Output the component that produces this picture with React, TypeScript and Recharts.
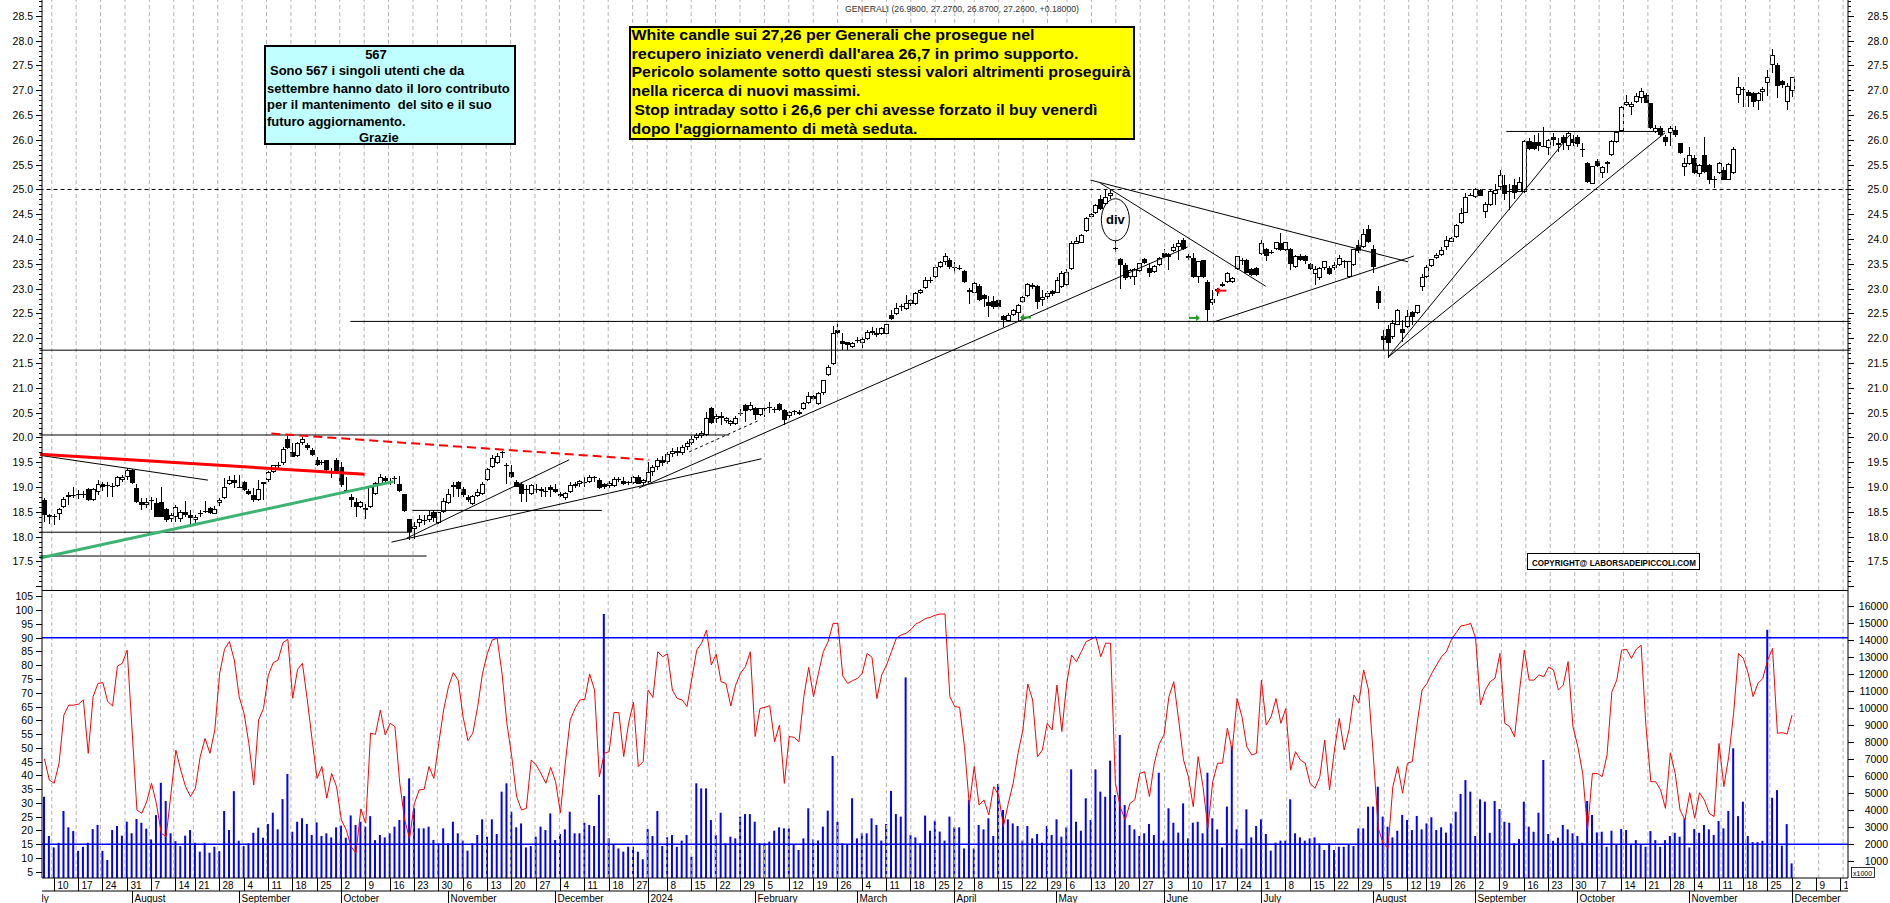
import React from "react";
import {
  ComposedChart,
  Bar,
  Line,
  XAxis,
  YAxis,
  ReferenceLine,
  ReferenceDot,
} from "recharts";

const FONT = "'Liberation Sans', Arial, Helvetica, sans-serif";

const TOP_H = 590;
const BOT_H = 313;
const PLOT_BOTTOM = 288; // inside the lower chart
const SLOTS = 371; // trading days incl. empty space after the last bar

// Borsa Italiana closures inside the period
const HOLIDAYS = [
  "2023-08-15", "2023-12-25", "2023-12-26", "2024-01-01",
  "2024-03-29", "2024-04-01", "2024-05-01", "2024-08-15",
];

const MONTH_NAMES = [
  "January", "February", "March", "April", "May", "June", "July",
  "August", "September", "October", "November", "December",
];

// daily OHLC, 6 Jul 2023 .. 2 Dec 2024
const OPEN = [
  18.73,18.43,18.42,18.45,18.59,18.79,18.84,18.86,18.86,18.96,
  18.73,18.90,19.06,19.05,19.03,19.02,19.14,19.20,19.35,18.99,
  18.69,18.64,18.74,18.67,18.69,18.55,18.35,18.40,18.35,18.50,
  18.44,18.33,18.47,18.52,18.58,18.46,18.67,18.77,19.06,19.14,
  19.01,19.10,18.92,18.85,18.74,19.10,19.14,19.31,19.45,19.48,
  19.96,19.71,19.62,19.88,19.85,19.75,19.55,19.50,19.55,19.33,
  19.55,19.41,18.95,18.79,18.69,18.60,18.58,18.59,18.87,19.06,
  19.18,19.11,19.18,19.07,18.86,18.36,18.15,18.28,18.34,18.34,
  18.50,18.28,18.50,18.68,19.04,19.10,18.97,18.81,18.66,18.83,
  18.86,19.14,19.40,19.48,19.70,19.45,19.31,19.11,19.06,18.95,
  18.87,18.97,18.93,18.93,19.01,18.97,18.87,18.77,18.91,19.02,
  19.06,19.10,19.11,19.20,19.14,19.06,19.02,19.02,19.16,19.12,
  19.10,19.08,19.21,19.08,19.11,19.30,19.40,19.55,19.50,19.66,
  19.72,19.68,19.80,19.88,19.98,20.02,20.05,20.59,20.38,20.43,
  20.33,20.27,20.27,20.49,20.66,20.55,20.59,20.45,20.59,20.62,
  20.57,20.67,20.55,20.43,20.54,20.48,20.57,20.70,20.83,20.67,
  20.89,21.26,21.48,22.17,21.95,21.93,21.83,21.95,21.90,21.98,
  22.10,22.11,22.09,22.09,22.47,22.49,22.65,22.60,22.69,22.69,
  22.92,23.01,23.17,23.23,23.44,23.54,23.58,23.44,23.42,23.36,
  22.94,22.92,23.05,22.87,22.73,22.76,22.77,22.45,22.35,22.47,
  22.50,22.74,22.85,23.08,23.05,22.77,22.84,22.95,22.92,23.03,
  23.07,23.39,23.91,23.93,24.17,24.45,24.52,24.80,24.71,24.86,
  23.81,23.60,23.48,23.24,23.24,23.36,23.59,23.41,23.34,23.48,
  23.71,23.70,23.75,23.84,23.98,23.66,23.61,23.24,23.58,23.14,
  22.72,23.00,23.06,23.14,23.14,23.39,23.57,23.58,23.39,23.41,
  23.70,23.79,23.71,23.79,23.93,23.77,23.79,23.43,23.65,23.65,
  23.50,23.30,23.21,23.41,23.41,23.41,23.48,23.56,23.24,23.48,
  23.88,23.85,24.20,23.79,22.95,22.05,22.18,22.03,22.27,22.18,
  22.22,22.52,22.50,23.03,23.24,23.45,23.61,23.68,23.85,23.95,
  24.04,24.32,24.53,24.88,24.84,24.99,24.55,24.69,24.91,25.04,
  25.10,24.97,25.09,24.95,24.95,25.98,25.96,25.96,25.88,25.83,
  26.05,25.90,26.06,25.88,26.01,26.05,25.82,25.53,25.12,25.58,
  25.34,25.51,25.70,25.96,26.17,26.70,26.66,26.77,26.84,26.90,
  26.74,26.15,26.23,26.05,26.13,26.19,25.93,25.46,25.51,25.63,
  25.31,25.69,25.49,25.22,25.33,25.39,25.20,25.33,26.90,27.00,
  26.97,26.94,26.79,26.97,27.15,27.51,27.51,27.19,26.77,26.98,
];

const HIGH = [
  18.77,18.45,18.45,18.57,18.81,18.91,19.00,18.94,18.92,18.98,
  18.98,19.14,19.11,19.11,19.08,19.23,19.25,19.38,19.36,19.07,
  18.77,18.77,18.79,18.77,19.01,18.58,18.47,18.64,18.54,18.71,
  18.54,18.44,18.54,18.71,18.60,18.61,18.77,19.18,19.22,19.24,
  19.24,19.12,18.97,18.99,19.14,19.10,19.33,19.45,19.51,19.80,
  20.03,19.88,19.90,20.00,19.88,19.78,19.60,19.55,19.55,19.38,
  19.58,19.50,19.20,18.87,18.77,18.72,18.65,19.04,19.11,19.27,
  19.23,19.18,19.23,19.23,18.86,18.36,18.30,18.44,18.44,18.54,
  18.54,18.50,18.77,18.97,19.11,19.13,19.01,18.84,18.84,18.97,
  19.11,19.38,19.65,19.68,19.72,19.48,19.45,19.15,19.11,19.04,
  19.06,19.06,19.01,19.01,19.04,19.06,18.91,18.91,19.11,19.11,
  19.14,19.21,19.25,19.23,19.18,19.09,19.12,19.21,19.21,19.21,
  19.13,19.23,19.24,19.17,19.51,19.45,19.58,19.62,19.70,19.78,
  19.80,19.85,19.92,20.02,20.10,20.14,20.52,20.62,20.48,20.52,
  20.42,20.35,20.43,20.57,20.68,20.72,20.62,20.60,20.62,20.72,
  20.62,20.70,20.57,20.53,20.56,20.56,20.72,20.92,20.86,20.92,
  21.16,21.46,22.25,22.33,22.11,21.93,21.92,22.03,22.03,22.17,
  22.23,22.20,22.23,22.30,22.57,22.72,22.69,22.87,22.80,22.94,
  23.00,23.24,23.23,23.48,23.56,23.71,23.62,23.54,23.48,23.38,
  23.02,23.14,23.09,22.89,22.85,22.85,22.80,22.47,22.50,22.60,
  22.70,22.85,23.11,23.12,23.07,22.97,22.95,22.98,23.24,23.35,
  23.40,23.97,24.05,24.10,24.45,24.52,24.70,24.88,25.00,25.00,
  23.97,23.61,23.51,23.40,23.41,23.52,23.62,23.51,23.48,23.63,
  23.79,23.72,23.91,23.98,24.02,23.70,23.71,23.56,23.58,23.18,
  22.97,23.02,23.13,23.33,23.24,23.66,23.62,23.60,23.42,23.43,
  23.98,23.81,23.78,23.95,24.12,23.95,23.81,23.68,23.70,23.68,
  23.52,23.45,23.44,23.56,23.45,23.54,23.68,23.58,23.56,23.80,
  23.98,24.20,24.28,23.88,23.05,22.17,22.26,22.37,22.60,22.37,
  22.58,22.54,22.67,23.30,23.48,23.60,23.71,23.85,24.06,24.05,
  24.31,24.62,24.92,24.92,25.02,25.01,24.74,24.99,25.12,25.39,
  25.30,25.12,25.22,25.26,26.00,26.03,26.10,26.13,26.25,26.01,
  26.14,26.03,26.09,26.15,26.10,26.10,25.94,25.56,25.47,25.61,
  25.47,25.58,25.99,26.17,26.68,26.90,26.77,26.94,27.04,26.95,
  26.75,26.30,26.27,26.10,26.28,26.28,25.94,25.63,25.86,25.70,
  25.52,26.06,25.51,25.27,25.56,25.46,25.54,25.86,27.27,27.06,
  27.01,26.97,26.97,27.06,27.40,27.83,27.55,27.21,27.14,27.27,
];

const LOW = [
  18.30,18.26,18.24,18.34,18.57,18.64,18.77,18.76,18.78,18.72,
  18.72,18.84,18.93,18.79,18.79,19.00,19.10,19.15,19.07,18.67,
  18.54,18.57,18.54,18.39,18.39,18.30,18.30,18.30,18.30,18.40,
  18.20,18.27,18.40,18.47,18.45,18.45,18.62,18.76,19.04,18.99,
  18.99,18.93,18.84,18.70,18.71,18.74,19.10,19.28,19.38,19.45,
  19.76,19.60,19.60,19.85,19.74,19.62,19.43,19.45,19.31,19.18,
  19.30,19.00,18.90,18.60,18.40,18.58,18.35,18.57,18.84,19.04,
  19.06,19.05,19.06,18.91,18.50,17.93,17.95,18.20,18.24,18.30,
  18.30,18.25,18.48,18.66,18.81,18.81,18.81,18.70,18.64,18.81,
  18.84,19.12,19.38,19.46,19.58,19.06,19.18,19.00,18.70,18.70,
  18.85,18.88,18.81,18.81,18.81,18.88,18.81,18.73,18.89,18.99,
  19.01,19.01,19.08,19.11,18.97,18.97,18.98,19.01,19.11,19.04,
  19.04,19.06,19.06,19.05,19.08,19.22,19.35,19.42,19.46,19.60,
  19.62,19.64,19.74,19.84,19.94,19.98,20.02,20.28,20.30,20.25,
  20.30,20.23,20.26,20.43,20.32,20.53,20.35,20.44,20.42,20.49,
  20.50,20.54,20.25,20.40,20.45,20.46,20.55,20.68,20.75,20.66,
  20.86,21.23,21.46,22.03,21.76,21.76,21.81,21.90,21.80,21.96,
  22.06,22.03,22.07,22.07,22.36,22.47,22.54,22.58,22.66,22.67,
  22.90,22.99,23.12,23.21,23.42,23.48,23.40,23.31,23.38,23.12,
  22.69,22.91,22.76,22.64,22.42,22.60,22.60,22.23,22.33,22.45,
  22.35,22.72,22.84,23.00,22.60,22.65,22.80,22.85,22.91,23.01,
  23.05,23.38,23.90,23.92,24.15,24.43,24.50,24.58,24.69,24.80,
  23.74,23.00,23.18,23.20,23.07,23.34,23.49,23.24,23.32,23.46,
  23.61,23.38,23.73,23.58,23.78,23.58,23.21,23.11,23.21,22.34,
  22.67,22.85,23.03,23.12,23.12,23.38,23.48,23.32,23.25,23.26,
  23.68,23.56,23.70,23.78,23.75,23.76,23.38,23.41,23.55,23.50,
  23.37,23.07,23.17,23.38,23.28,23.37,23.46,23.41,23.22,23.46,
  23.71,23.83,23.93,23.32,22.60,21.76,21.60,21.98,22.26,21.93,
  22.20,22.27,22.48,22.95,23.22,23.43,23.60,23.66,23.78,23.94,
  24.02,24.30,24.52,24.86,24.82,24.87,24.42,24.67,24.69,24.99,
  24.79,24.59,24.81,24.94,24.93,25.80,25.80,25.78,25.86,25.70,
  25.88,25.75,25.80,25.79,25.87,25.85,25.65,25.14,25.11,25.46,
  25.24,25.34,25.68,25.94,26.15,26.68,26.50,26.75,26.74,26.74,
  26.21,26.13,26.08,25.88,25.88,26.05,25.71,25.27,25.49,25.32,
  25.26,25.33,25.12,25.02,25.31,25.19,25.19,25.31,26.74,26.66,
  26.66,26.66,26.60,26.78,26.88,27.34,26.84,27.04,26.60,26.87,
];

const CLOSE = [
  18.44,18.40,18.39,18.55,18.76,18.84,18.85,18.86,18.87,18.73,
  18.96,19.06,19.01,19.03,19.02,19.21,19.21,19.35,19.09,18.69,
  18.64,18.69,18.71,18.40,18.40,18.34,18.44,18.59,18.50,18.44,
  18.37,18.39,18.47,18.49,18.48,18.56,18.74,19.00,19.14,19.08,
  19.00,18.95,18.87,18.74,18.97,19.06,19.31,19.44,19.45,19.76,
  19.79,19.61,19.88,19.96,19.78,19.65,19.45,19.51,19.34,19.33,
  19.31,19.04,18.95,18.73,18.59,18.70,18.54,19.01,19.08,19.21,
  19.12,19.11,19.18,18.93,18.52,18.10,18.22,18.35,18.31,18.44,
  18.37,18.50,18.71,18.87,19.01,18.97,18.84,18.73,18.82,18.91,
  19.06,19.36,19.58,19.63,19.71,19.42,19.20,19.01,18.87,18.97,
  19.04,18.97,18.96,18.93,18.94,18.91,18.83,18.89,19.04,19.07,
  19.12,19.11,19.21,19.20,18.99,19.01,19.09,19.16,19.17,19.06,
  19.09,19.20,19.06,19.14,19.31,19.40,19.55,19.48,19.66,19.72,
  19.68,19.80,19.88,19.97,20.06,20.10,20.39,20.30,20.43,20.39,
  20.39,20.34,20.40,20.49,20.54,20.65,20.45,20.59,20.58,20.62,
  20.56,20.56,20.35,20.52,20.53,20.52,20.69,20.84,20.77,20.90,
  21.16,21.43,22.11,22.11,21.88,21.87,21.90,21.97,21.98,22.13,
  22.15,22.07,22.20,22.29,22.38,22.62,22.64,22.72,22.77,22.92,
  22.97,23.17,23.16,23.44,23.54,23.65,23.44,23.44,23.41,23.14,
  22.98,23.11,22.77,22.80,22.65,22.64,22.64,22.37,22.47,22.57,
  22.67,22.84,23.09,23.03,22.74,22.84,22.92,22.89,23.18,23.32,
  23.34,23.93,23.97,24.08,24.42,24.50,24.69,24.60,24.85,24.92,
  23.80,23.48,23.21,23.38,23.39,23.51,23.51,23.32,23.46,23.61,
  23.63,23.63,23.85,23.93,23.80,23.61,23.24,23.56,23.23,22.57,
  22.79,22.96,23.10,23.31,23.22,23.65,23.57,23.32,23.28,23.28,
  23.93,23.65,23.74,23.95,23.77,23.95,23.50,23.65,23.58,23.55,
  23.39,23.40,23.41,23.55,23.30,23.48,23.61,23.55,23.55,23.79,
  23.76,24.10,23.95,23.44,22.72,21.97,21.90,22.30,22.57,22.11,
  22.45,22.43,22.67,23.24,23.43,23.59,23.68,23.78,23.99,24.03,
  24.28,24.53,24.84,24.88,25.00,24.87,24.71,24.96,24.99,25.29,
  24.90,24.95,24.92,25.16,25.98,25.81,25.81,25.88,25.88,25.99,
  26.00,25.94,25.94,26.13,25.93,25.92,25.81,25.16,25.47,25.47,
  25.45,25.56,25.98,26.15,26.66,26.76,26.72,26.88,26.99,26.75,
  26.23,26.23,26.10,25.96,26.23,26.10,25.73,25.54,25.70,25.34,
  25.50,25.36,25.20,25.22,25.53,25.20,25.51,25.81,27.07,27.02,
  26.88,26.77,26.94,27.02,27.27,27.72,27.09,27.11,27.08,27.26,
];

// oscillator (left scale of the lower panel)
const OSCILLATOR = [
  46.0,38.3,37.1,44.4,61.9,65.5,65.5,65.9,67.4,48.0,
  68.6,73.4,73.7,66.8,65.2,79.7,80.7,85.5,56.5,27.4,
  26.2,30.4,37.1,29.8,19.0,17.7,33.5,49.2,41.9,35.9,
  32.3,35.3,46.8,53.4,48.0,56.5,77.1,85.8,88.6,81.9,
  68.6,62.5,51.6,36.5,60.1,64.3,76.5,80.9,81.9,88.2,
  89.4,68.0,78.5,80.7,67.4,52.8,38.9,43.2,31.7,40.7,
  35.9,23.8,20.2,14.1,11.7,27.8,22.6,55.3,54.9,63.7,
  54.7,58.9,57.7,37.1,23.8,17.1,29.8,34.7,34.9,43.2,
  38.9,51.6,63.7,72.2,77.3,74.6,61.3,52.6,55.3,65.0,
  77.1,84.3,89.2,89.8,77.1,58.9,46.8,32.3,27.4,28.0,
  45.6,43.8,40.7,37.1,42.9,37.7,26.4,44.4,60.1,64.3,
  67.4,67.6,76.8,71.0,39.5,48.0,48.6,62.8,62.8,46.8,
  58.9,66.6,43.2,45.0,71.0,68.3,84.9,83.1,84.1,71.0,
  67.9,67.4,65.0,75.2,85.5,88.0,92.8,80.1,84.0,74.0,
  73.4,65.2,72.8,77.1,79.5,84.9,54.1,64.3,64.7,65.3,
  52.2,58.3,37.1,54.1,53.8,52.2,68.6,79.2,68.6,77.1,
  84.9,88.6,95.2,95.2,76.1,73.4,74.4,75.2,77.1,84.3,
  82.9,67.9,76.5,80.1,84.9,89.8,91.0,91.6,93.0,95.0,
  95.8,97.0,97.4,98.2,98.6,98.6,68.6,65.0,64.7,50.4,
  29.2,43.2,29.2,31.1,25.6,35.9,32.9,21.4,29.8,37.1,
  48.0,56.5,73.2,67.4,46.8,49.2,58.9,56.5,72.8,55.9,
  73.4,83.7,81.3,84.9,88.6,89.4,90.4,83.1,88.0,88.0,
  37.1,28.6,23.8,29.8,31.1,40.7,41.3,32.3,44.4,51.4,
  54.7,68.6,74.0,60.1,45.6,39.5,28.6,46.8,35.9,20.8,
  37.7,44.4,44.4,57.1,49.2,67.9,61.3,50.4,47.4,48.0,
  74.6,58.3,61.3,67.9,58.9,64.3,41.9,48.6,45.6,44.4,
  37.1,35.3,39.5,52.8,34.7,49.2,60.7,49.2,56.5,69.2,
  66.2,78.3,71.0,46.8,20.8,15.3,13.5,35.9,43.2,33.5,
  44.4,45.0,58.9,71.0,73.4,77.1,80.1,83.1,84.9,89.2,
  91.8,94.3,94.6,95.2,89.8,65.6,71.0,74.0,75.3,84.3,
  58.9,57.7,54.0,70.4,85.5,74.6,74.6,76.5,75.8,79.3,
  78.3,71.0,72.8,81.3,57.7,50.4,40.7,20.2,40.7,40.7,
  39.5,47.4,70.4,74.6,85.5,85.8,82.5,85.8,87.3,57.7,
  37.7,37.7,34.7,28.0,48.2,40.7,27.4,23.8,33.7,24.4,
  33.7,31.0,26.2,25.0,51.6,35.9,46.8,62.5,84.3,82.5,
  77.1,68.6,73.4,75.2,81.9,86.1,55.3,55.5,55.0,61.9,
];

// volume in thousands (right scale of the lower panel)
const VOLUME_K = [
  4.78,2.47,1.80,2.07,3.94,2.98,2.76,1.60,1.84,2.07,
  2.88,3.12,1.60,1.06,2.82,3.06,2.49,3.31,2.63,3.47,
  3.25,2.90,2.27,3.70,5.60,4.53,2.63,2.17,1.88,2.49,
  2.82,2.07,1.55,2.07,1.49,1.84,1.58,3.94,2.82,5.11,
  2.19,1.88,2.04,2.66,2.96,2.37,3.18,3.84,2.86,4.64,
  6.12,2.72,3.31,3.51,3.18,2.53,3.27,2.47,2.63,2.39,
  2.98,3.08,2.37,3.68,3.12,3.31,3.02,3.64,2.23,2.53,
  2.39,2.63,3.02,3.41,4.82,5.86,4.10,2.92,2.92,3.02,
  2.24,2.04,2.92,2.04,3.31,2.63,2.20,1.61,2.04,2.53,
  3.45,2.43,3.45,2.59,5.08,5.57,3.90,2.98,3.21,1.80,
  1.88,2.43,3.02,2.82,3.80,2.24,2.59,2.86,3.90,2.63,
  2.63,3.25,3.12,3.06,4.88,15.53,2.33,1.94,1.74,1.55,
  1.84,1.84,1.55,1.10,2.88,2.47,3.94,1.88,2.39,2.53,
  1.84,2.20,2.53,1.25,5.57,5.27,5.27,3.41,2.53,3.84,
  2.04,2.43,2.33,3.61,3.76,3.76,3.31,2.04,2.04,2.14,
  2.78,2.98,2.92,2.92,1.94,1.65,2.33,4.10,2.27,2.20,
  3.02,3.96,7.18,3.31,2.04,2.00,4.69,2.33,2.63,2.63,
  3.51,3.12,2.20,3.18,5.12,3.76,3.61,11.80,2.53,2.39,
  2.04,3.67,2.78,3.37,2.73,2.20,3.61,2.98,2.98,1.74,
  4.59,1.74,3.12,2.86,3.51,2.47,5.53,4.00,3.45,3.21,
  3.06,2.20,3.06,2.33,2.59,2.08,3.06,2.53,3.45,2.43,
  2.98,6.39,3.31,2.78,4.69,3.41,6.39,5.08,4.78,6.90,
  4.88,8.41,4.29,3.12,2.86,2.47,2.63,3.18,2.53,6.19,
  2.20,4.10,3.25,2.67,4.39,2.33,3.25,3.31,2.63,6.19,
  3.51,2.86,1.80,4.20,7.76,2.86,1.74,4.04,2.39,3.06,
  3.45,2.59,1.61,2.08,2.20,2.20,4.63,2.63,2.39,2.20,
  2.33,2.39,2.04,1.65,2.04,1.65,1.84,1.84,1.94,1.88,
  2.92,2.92,4.20,4.20,5.37,3.61,3.02,2.39,2.78,3.71,
  3.41,2.82,3.65,2.86,3.21,3.57,2.82,2.98,2.67,3.21,
  3.90,4.94,5.76,5.08,2.47,4.63,4.49,2.66,4.53,4.06,
  3.31,3.25,2.04,2.29,4.49,3.02,2.72,3.84,6.94,2.59,
  2.19,2.37,3.12,2.86,2.63,2.47,2.07,4.53,3.70,2.68,
  2.72,1.84,2.78,1.98,2.88,2.82,1.94,2.23,1.98,1.84,
  2.76,2.23,1.84,2.23,2.47,2.66,2.43,3.51,1.80,2.88,
  2.66,3.12,2.86,2.53,3.35,2.92,3.94,7.63,3.64,4.49,
  2.47,2.11,2.11,2.19,14.60,4.72,5.17,1.90,3.17,0.86,
];

const PRICE_DOMAIN: [number, number] = [16.925, 28.82];
const OSC_DOMAIN: [number, number] = [2.71, 107.33];
const VOL_DOMAIN: [number, number] = [0, 16941];
const PRICE_TICKS = Array.from({ length: 119 }, (_, k) => (170 + k) / 10);
const OSC_TICKS = Array.from({ length: 21 }, (_, k) => 5 + k * 5);
const VOL_TICKS = Array.from({ length: 16 }, (_, k) => (k + 1) * 1000);

// support / resistance lines: [index, price] pairs
const HLINES = [
  { y: 25.0, from: -0.5, to: 370.5, dash: "4 3" },
  { y: 21.76, from: -0.5, to: 370.5 },
  { y: 22.34, from: 63.2, to: 370.5 },
  { y: 20.05, from: -0.5, to: 140.8 },
  { y: 18.09, from: -0.5, to: 75.7 },
  { y: 17.61, from: -0.5, to: 78.8 },
  { y: 18.53, from: 75.9, to: 114.7 },
  { y: 26.17, from: 300.0, to: 332.5 },
];

const TRENDLINES = [
  { a: [-0.4, 19.64], b: [34.0, 19.14], color: "#000", w: 1 },
  { a: [-0.4, 19.66], b: [66.1, 19.26], color: "#ff0000", w: 3 },
  { a: [47.0, 20.08], b: [124.4, 19.55], color: "#ff0000", w: 2, dash: "9 5" },
  { a: [-0.4, 17.57], b: [72.0, 19.11], color: "#3cb371", w: 3 },
  { a: [71.6, 17.89], b: [147.4, 19.57], color: "#000", w: 1 },
  { a: [74.7, 17.97], b: [108.0, 19.55], color: "#000", w: 1 },
  { a: [132.6, 19.71], b: [147.0, 20.35], color: "#000", w: 1, dash: "3 3" },
  { a: [122.3, 18.98], b: [234.7, 23.84], color: "#000", w: 1 },
  { a: [214.8, 25.19], b: [279.9, 23.54], color: "#000", w: 1 },
  { a: [216.8, 25.13], b: [250.7, 23.05], color: "#000", w: 1 },
  { a: [240.1, 22.33], b: [281.1, 23.66], color: "#000", w: 1 },
  { a: [275.8, 21.62], b: [313.0, 26.1], color: "#000", w: 1 },
  { a: [275.8, 21.62], b: [332.5, 26.14], color: "#000", w: 1 },
];

const ARROWS = [
  { x: 201.6, y: 22.42, dir: -1, color: "#1f9e1f" },
  { x: 236.0, y: 22.41, dir: 1, color: "#1f9e1f" },
  { x: 241.6, y: 22.96, dir: -1, color: "#ff0000" },
];

const NOTE_LINES = [
  "White candle sui 27,26 per Generali che prosegue nel",
  "recupero iniziato venerdì dall'area 26,7 in primo supporto.",
  "Pericolo solamente sotto questi stessi valori altrimenti proseguirà",
  "nella ricerca di nuovi massimi.",
  "Stop intraday sotto i 26,6 per chi avesse forzato il buy venerdì",
  "dopo l'aggiornamento di metà seduta.",
];
const NOTE_X = [631.5, 631.5, 631.5, 631.5, 634.5, 631.5];
const NOTE_WIDTHS = [403, 447, 499, 229, 463, 286];
const NOTE_BASELINES = [40, 58.5, 77, 95.5, 114.5, 133.5];

const THANKS_LINES = [
  "Sono 567 i singoli utenti che da",
  "settembre hanno dato il loro contributo",
  "per il mantenimento  del sito e il suo",
  "futuro aggiornamento.",
];

function tradingDates(from: string, count: number): Date[] {
  const out: Date[] = [];
  const d = new Date(from + "T00:00:00Z");
  while (out.length < count) {
    const wd = d.getUTCDay();
    const key = d.toISOString().slice(0, 10);
    if (wd !== 0 && wd !== 6 && !HOLIDAYS.includes(key)) out.push(new Date(d.getTime()));
    d.setUTCDate(d.getUTCDate() + 1);
  }
  return out;
}

const DATES = tradingDates("2023-07-06", SLOTS);

const rows = DATES.map((_, i) => ({
  i,
  o: OPEN[i] ?? null,
  h: HIGH[i] ?? null,
  l: LOW[i] ?? null,
  c: CLOSE[i] ?? null,
  osc: OSCILLATOR[i] ?? null,
  vol: VOLUME_K[i] != null ? VOLUME_K[i] * 1000 : null,
}));

const WEEK_TICKS = DATES.map((_, i) => i).filter(
  (i) => i > 0 && DATES[i].getUTCDay() <= DATES[i - 1].getUTCDay()
);
const MONTH_TICKS = DATES.map((_, i) => i).filter(
  (i) => i > 0 && DATES[i].getUTCMonth() !== DATES[i - 1].getUTCMonth()
);
const DAY_LABELS = new Set<number>();
{
  let last = -10;
  for (const i of WEEK_TICKS) {
    if (i - last > 3) {
      DAY_LABELS.add(i);
      last = i;
    }
  }
}

function monthLabel(i: number) {
  const d = DATES[i];
  return d.getUTCMonth() === 0 ? String(d.getUTCFullYear()) : MONTH_NAMES[d.getUTCMonth()];
}

function Candle(props: any) {
  const { x, y, width, height, payload } = props;
  if (!payload || payload.o == null) return null;
  const { o, h, l, c } = payload;
  const k = h > l ? height / (h - l) : 0;
  const py = (v: number) => y + (h - v) * k;
  const c0 = Math.floor(x + width / 2);
  const top = Math.round(py(Math.max(o, c)));
  const bot = Math.round(py(Math.min(o, c)));
  const bodyH = bot - top;
  const up = c >= o;
  let body;
  if (bodyH < 2) {
    body = <line x1={c0 - 2} x2={c0 + 3} y1={top + 0.5} y2={top + 0.5} stroke="#000" />;
  } else if (up) {
    body = <rect x={c0 - 1.5} y={top + 0.5} width={4} height={bodyH - 1} fill="#fff" stroke="#000" />;
  } else {
    body = <rect x={c0 - 2} y={top} width={5} height={bodyH} fill="#000" />;
  }
  return (
    <g>
      <line x1={c0 + 0.5} x2={c0 + 0.5} y1={Math.round(y)} y2={Math.round(y + height)} stroke="#000" />
      {body}
    </g>
  );
}

const labelStyle = { fontFamily: FONT, fontSize: 10.5, fill: "#000" };

function priceTick(side: "left" | "right") {
  return (props: any) => {
    const { y, payload } = props;
    const tenths = Math.round(payload.value * 10);
    const major = tenths % 5 === 0;
    const labelled = major && tenths >= 175 && tenths <= 285;
    const yy = Math.round(y) + 0.5;
    const len = major ? 6 : 3;
    const x1 = side === "left" ? 42 - len : 1848;
    const x2 = side === "left" ? 42 : 1848 + len;
    return (
      <g>
        <line x1={x1} x2={x2} y1={yy} y2={yy} stroke="#000" />
        {labelled && (
          <text x={side === "left" ? 33 : 1888} y={y + 4} textAnchor="end" {...labelStyle}>
            {(tenths / 10).toFixed(1)}
          </text>
        )}
      </g>
    );
  };
}

function lowerTick(side: "left" | "right") {
  return (props: any) => {
    const { y, payload } = props;
    const yy = Math.round(y) + 0.5;
    return (
      <g>
        <line x1={side === "left" ? 36 : 1848} x2={side === "left" ? 42 : 1854} y1={yy} y2={yy} stroke="#000" />
        <text x={side === "left" ? 33 : 1888} y={y + 4} textAnchor="end" {...labelStyle}>
          {payload.value}
        </text>
      </g>
    );
  };
}

function DayTick(props: any) {
  const { x, payload } = props;
  const i = payload.value as number;
  const cx = Math.floor(x) + 0.5;
  return (
    <g>
      <line x1={cx} x2={cx} y1={PLOT_BOTTOM} y2={PLOT_BOTTOM + 13} stroke="#000" />
      {DAY_LABELS.has(i) && (
        <text x={cx + 3} y={PLOT_BOTTOM + 11} fontFamily={FONT} fontSize={10} fill="#000" clipPath="url(#axisClip)">
          {DATES[i].getUTCDate()}
        </text>
      )}
    </g>
  );
}

function MonthTick(props: any) {
  const { x, payload } = props;
  const i = payload.value as number;
  const cx = Math.floor(x) + 0.5;
  return (
    <g>
      <line x1={cx} x2={cx} y1={PLOT_BOTTOM + 13} y2={BOT_H} stroke="#000" />
      <text x={cx + 2} y={PLOT_BOTTOM + 24} fontFamily={FONT} fontSize={10} fill="#000" clipPath="url(#axisClip)">
        {monthLabel(i)}
      </text>
    </g>
  );
}

function Arrow(props: any) {
  const { cx, cy, dir, color } = props;
  const tip = cx + dir * 5;
  return (
    <g>
      <line x1={cx - dir * 5} x2={tip} y1={cy} y2={cy} stroke={color} strokeWidth={2} />
      <polygon points={`${tip + dir * 1},${cy} ${tip - dir * 3},${cy - 3.5} ${tip - dir * 3},${cy + 3.5}`} fill={color} />
    </g>
  );
}

function DivMark(props: any) {
  const { cx, cy } = props;
  return (
    <g>
      <ellipse cx={cx} cy={cy} rx={14} ry={21} fill="none" stroke="#000" />
      <text x={cx} y={cy + 4} textAnchor="middle" fontFamily={FONT} fontSize={13} fontWeight="bold" fill="#000">
        div
      </text>
    </g>
  );
}

export default function App() {
  return (
    <div style={{ position: "absolute", left: 0, top: 0, width: 1890, height: 903, background: "#fff", overflow: "hidden" }}>
      <ComposedChart width={1890} height={TOP_H} data={rows} margin={{ top: 0, right: 0, bottom: 0, left: 0 }} barCategoryGap={0}>
        <XAxis xAxisId="c" dataKey="i" type="category" hide />
        <XAxis xAxisId="n" type="number" domain={[-0.5, 370.5]} hide allowDataOverflow />
        <YAxis yAxisId="p" domain={PRICE_DOMAIN} ticks={PRICE_TICKS} interval={0} width={42}
          axisLine={{ stroke: "#000" }} tickLine={false} tick={priceTick("left")} allowDataOverflow />
        <YAxis yAxisId="pr" orientation="right" domain={PRICE_DOMAIN} ticks={PRICE_TICKS} interval={0} width={42}
          axisLine={{ stroke: "#000" }} tickLine={false} tick={priceTick("right")} allowDataOverflow />
        {WEEK_TICKS.map((i) => (
          <ReferenceLine key={"g" + i} xAxisId="n" yAxisId="p" x={i} stroke="#b4b4b4" strokeDasharray="4 3" ifOverflow="visible" />
        ))}
        <Bar xAxisId="c" yAxisId="p" dataKey={(d: any) => (d.h == null ? null : [d.l, d.h])}
          shape={(p: any) => <Candle {...p} />} isAnimationActive={false} />
        {HLINES.map((h, k) => (
          <ReferenceLine key={"h" + k} xAxisId="n" yAxisId="p" ifOverflow="visible"
            segment={[{ x: h.from, y: h.y }, { x: h.to, y: h.y }]}
            stroke="#000" strokeDasharray={h.dash} />
        ))}
        {TRENDLINES.map((t, k) => (
          <ReferenceLine key={"t" + k} xAxisId="n" yAxisId="p" ifOverflow="visible"
            segment={[{ x: t.a[0], y: t.a[1] }, { x: t.b[0], y: t.b[1] }]}
            stroke={t.color} strokeWidth={t.w} strokeDasharray={t.dash} />
        ))}
        <ReferenceDot xAxisId="n" yAxisId="p" x={219.9} y={24.39} ifOverflow="visible"
          shape={(p: any) => <DivMark {...p} />} />
        {ARROWS.map((a, k) => (
          <ReferenceDot key={"a" + k} xAxisId="n" yAxisId="p" x={a.x} y={a.y} ifOverflow="visible"
            shape={(p: any) => <Arrow {...p} dir={a.dir} color={a.color} />} />
        ))}
      </ComposedChart>

      <ComposedChart width={1890} height={BOT_H} data={rows} margin={{ top: 0, right: 0, bottom: 0, left: 0 }} barCategoryGap={0}>
        <XAxis xAxisId="d" dataKey="i" type="category" ticks={WEEK_TICKS} interval={0} height={13}
          tickLine={false} axisLine={{ stroke: "#000" }} tick={(p: any) => <DayTick {...p} />} />
        <XAxis xAxisId="m" dataKey="i" type="category" ticks={MONTH_TICKS} interval={0} height={12}
          tickLine={false} axisLine={{ stroke: "#000" }} tick={(p: any) => <MonthTick {...p} />} />
        <XAxis xAxisId="n" type="number" domain={[-0.5, 370.5]} hide allowDataOverflow />
        <YAxis yAxisId="o" domain={OSC_DOMAIN} ticks={OSC_TICKS} interval={0} width={42}
          axisLine={{ stroke: "#000" }} tickLine={false} tick={lowerTick("left")} allowDataOverflow />
        <YAxis yAxisId="v" orientation="right" domain={VOL_DOMAIN} ticks={VOL_TICKS} interval={0} width={42}
          axisLine={{ stroke: "#000" }} tickLine={false} tick={lowerTick("right")} allowDataOverflow />
        {WEEK_TICKS.map((i) => (
          <ReferenceLine key={"g" + i} xAxisId="n" yAxisId="o" x={i} stroke="#b4b4b4" strokeDasharray="4 3" ifOverflow="visible" />
        ))}
        <Bar xAxisId="d" yAxisId="v" dataKey="vol" fill="#0000ff" barSize={2} isAnimationActive={false} />
        <Line xAxisId="d" yAxisId="o" dataKey="osc" type="linear" stroke="#ff0000" strokeWidth={1}
          dot={false} isAnimationActive={false} />
        <ReferenceLine xAxisId="n" yAxisId="o" y={90} stroke="#0000ff" strokeWidth={1.5} />
        <ReferenceLine xAxisId="n" yAxisId="o" y={15} stroke="#0000ff" strokeWidth={1.5} />
      </ComposedChart>

      <svg width={1890} height={903} style={{ position: "absolute", left: 0, top: 0, pointerEvents: "none" }}>
        <defs>
          <clipPath id="plotClip">
            <rect x={42} y={880} width={200} height={23} />
          </clipPath>
          <clipPath id="axisClip" clipPathUnits="userSpaceOnUse">
            <rect x={42} y={-1000} width={1806} height={3000} />
          </clipPath>
        </defs>
        <line x1={42} x2={1848} y1={TOP_H + 0.5} y2={TOP_H + 0.5} stroke="#000" />
        <text x={845} y={12} fontFamily={FONT} fontSize={9} fill="#333" textLength={234} lengthAdjust="spacingAndGlyphs">
          GENERALI (26.9800, 27.2700, 26.8700, 27.2600, +0.18000)
        </text>

        <rect x={630} y={27} width={504} height={112} fill="#ffff00" stroke="#000" strokeWidth={2} />
        {NOTE_LINES.map((t, k) => (
          <text key={k} x={NOTE_X[k]} y={NOTE_BASELINES[k]} fontFamily={FONT} fontSize={14} fontWeight="bold" fill="#000"
            textLength={NOTE_WIDTHS[k]} lengthAdjust="spacingAndGlyphs">
            {t}
          </text>
        ))}

        <rect x={265} y={46} width={250} height={98} fill="#c0ffff" stroke="#000" strokeWidth={2} />
        <text x={376} y={59} textAnchor="middle" fontFamily={FONT} fontSize={13} fontWeight="bold" fill="#000">567</text>
        {THANKS_LINES.map((t, k) => (
          <text key={k} x={k === 0 ? 270 : 267} y={[75, 92.5, 109, 125.5][k]} fontFamily={FONT} fontSize={13}
            fontWeight="bold" fill="#000" xmlSpace="preserve">
            {t}
          </text>
        ))}
        <text x={359} y={141.5} fontFamily={FONT} fontSize={13} fontWeight="bold" fill="#000">Grazie</text>

        <rect x={1527.5} y={553.5} width={172} height={16} fill="#fff" stroke="#000" />
        <text x={1532} y={565.5} fontFamily={FONT} fontSize={9} fontWeight="bold" fill="#000"
          textLength={164} lengthAdjust="spacingAndGlyphs">
          COPYRIGHT@ LABORSADEIPICCOLI.COM
        </text>

        <g clipPath="url(#plotClip)">
          <text x={31} y={902} fontFamily={FONT} fontSize={10} fill="#000">July</text>
        </g>

        <rect x={1851.5} y={867.5} width={23} height={10} fill="#fff" stroke="#000" strokeWidth={0.8} />
        <text x={1853} y={875.5} fontFamily={FONT} fontSize={7} fill="#000">x1000</text>
      </svg>
    </div>
  );
}
